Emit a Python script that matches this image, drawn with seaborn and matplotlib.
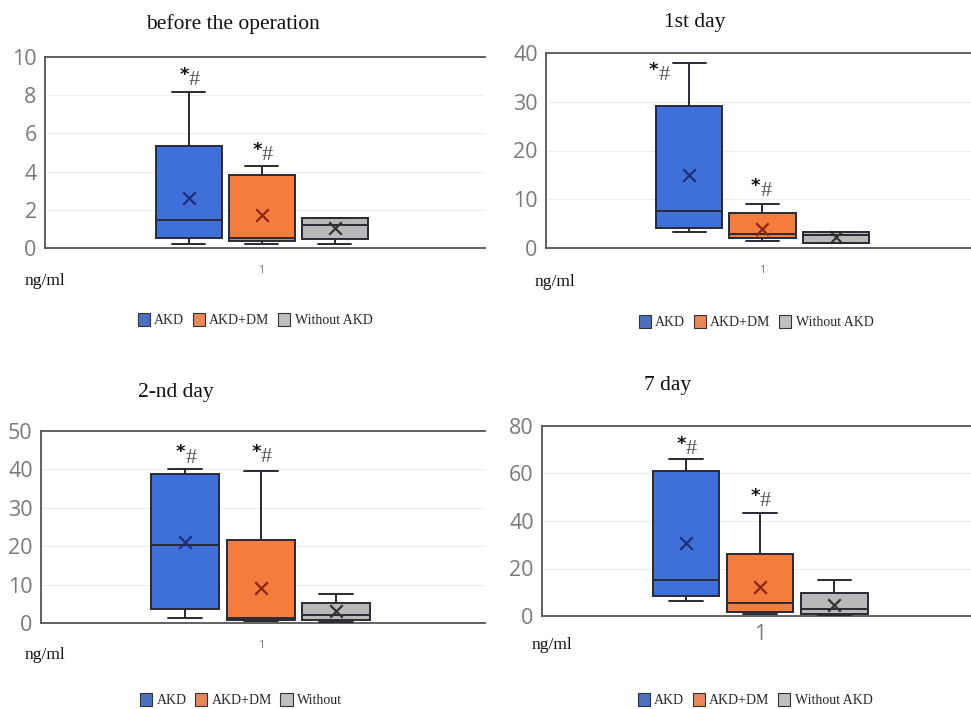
import numpy as np
import pandas as pd
import matplotlib
matplotlib.use("Agg")
import matplotlib.pyplot as plt
from matplotlib.patches import Patch
import seaborn as sns

# ---------------- data ----------------
groups = ["AKD", "AKD+DM", "Without AKD"]
titles = ["before the operation", "1st day", "2-nd day", "7 day"]
ylims = [10, 40, 50, 80]
yticks = [[0, 2, 4, 6, 8, 10], [0, 10, 20, 30, 40], [0, 10, 20, 30, 40, 50], [0, 20, 40, 60, 80]]
legend_labels = [groups, groups, ["AKD", "AKD+DM", "Without"], groups]

# five-number summaries per group: [whisker low, Q1, median, Q3, whisker high]
p1_akd = [0.2, 0.54, 1.48, 5.36, 8.17]
p1_dm = [0.2, 0.35, 0.54, 3.83, 4.3]
p1_wo = [0.2, 0.47, 1.2, 1.55, 1.55]
p2_akd = [3.2, 4.2, 7.5, 29.2, 37.9]
p2_dm = [1.4, 2.05, 2.9, 7.2, 8.96]
p2_wo = [0.96, 0.96, 2.67, 3.3, 3.3]
p3_akd = [1.3, 3.6, 20.2, 38.7, 40.05]
p3_dm = [0.5, 0.8, 1.2, 21.5, 39.6]
p3_wo = [0.2, 0.8, 2.1, 5.3, 7.5]
p4_akd = [6.3, 8.4, 15.0, 60.9, 66.2]
p4_dm = [1.0, 1.7, 5.5, 26.0, 43.5]
p4_wo = [0.5, 0.7, 3.1, 9.8, 15.0]

# means (x markers)
p1_means = [2.64, 1.72, 1.03]
p2_means = [14.9, 4.0, 2.26]
p3_means = [21.0, 9.1, 3.0]
p4_means = [30.6, 12.4, 4.8]

summaries = [[p1_akd, p1_dm, p1_wo], [p2_akd, p2_dm, p2_wo],
             [p3_akd, p3_dm, p3_wo], [p4_akd, p4_dm, p4_wo]]
means = [p1_means, p2_means, p3_means, p4_means]

# ---------------- styling / layout ----------------
box_colors = {"AKD": "#3f6fd8", "AKD+DM": "#f47c3c", "Without AKD": "#b9b9b9"}
mean_colors = {"AKD": "#1c2f7a", "AKD+DM": "#8a2616", "Without AKD": "#333333"}
legend_colors = ["#4a70c0", "#e8875a", "#c0c0c0"]

W, H = 971, 709
rects = [
    (45, 57, 485, 248),
    (546, 53, 990, 248),
    (41, 431, 485, 623),
    (542, 426, 990, 616),
]
xlims = [(-1.97, 4.06), (-1.95, 4.1), (-1.91, 3.97), (-1.94, 4.1)]
title_pos = [(233, 24), (695, 22), (176, 393), (668, 385)]
ngml_pos = [(25, 281), (535, 282), (25, 655), (532, 645)]
legend_pos = [(255, 320), (756, 322), (241, 700), (755, 700)]
one_size = [8, 8, 8, 15]
# annotation placements: (group index, x offset, y offset as fraction of range)
annots = [
    [(0, 0.0, 0.08), (1, 0.0, 0.075)],
    [(0, -0.42, -0.04), (1, -0.03, 0.085)],
    [(0, 0.0, 0.08), (1, 0.0, 0.09)],
    [(0, 0.0, 0.07), (1, 0.0, 0.082)],
]

sns.set_theme(style="white")
plt.rcParams["font.family"] = ["DejaVu Sans"]

fig = plt.figure(figsize=(W / 100, H / 100), dpi=100)

for i in range(4):
    l, t, r, b = rects[i]
    ax = fig.add_axes([l / W, 1 - b / H, (r - l) / W, (b - t) / H])

    rows = []
    for g, s in zip(groups, summaries[i]):
        for v in s:
            rows.append({"group": g, "value": v})
    df = pd.DataFrame(rows)
    mdf = pd.DataFrame({"group": groups, "mean": means[i]})

    sns.boxplot(data=df, x="group", y="value", hue="group", order=groups,
                hue_order=groups, palette=box_colors, saturation=1,
                whis=(0, 100), width=0.9, linewidth=1.4, linecolor="#2a2a35",
                legend=False, ax=ax, zorder=3)
    sns.stripplot(data=mdf, x="group", y="mean", hue="group", order=groups,
                  hue_order=groups, palette=mean_colors, jitter=False,
                  marker="x", s=9, linewidth=1.6, legend=False, ax=ax, zorder=6)

    ax.set_xlim(*xlims[i])
    ax.set_ylim(0, ylims[i])
    ax.set_yticks(yticks[i])
    ax.set_yticklabels([str(v) for v in yticks[i]], fontsize=15.5,
                       color="#7a7a7a", family="Open Sans")
    ax.set_xticks([1])
    ax.set_xticklabels(["1"], fontsize=one_size[i], color="#7a7a7a",
                       family="Open Sans")
    ax.tick_params(axis="x", length=0, pad=12 if i < 3 else 6)
    ax.tick_params(axis="y", length=0, pad=6)
    ax.set_xlabel("")
    ax.set_ylabel("")
    for v in yticks[i][1:-1]:
        ax.axhline(v, color="#eeeeee", lw=0.8, zorder=0)
    for sp in ["top", "left", "bottom"]:
        ax.spines[sp].set_color("#555555")
        ax.spines[sp].set_linewidth(1.3)
    ax.spines["right"].set_visible(False)

    # significance marks: small dark asterisk followed by a taller grey hash
    for gi, dx, dy in annots[i]:
        ytop = summaries[i][gi][-1] + dy * ylims[i]
        ax.annotate("*", (gi + dx, ytop), xytext=(0, 1), textcoords="offset points",
                    ha="right", va="center", fontsize=13, fontweight="bold",
                    family="DejaVu Sans", color="#111111", zorder=7)
        ax.annotate("#", (gi + dx, ytop), xytext=(0, -3), textcoords="offset points",
                    ha="left", va="center", fontsize=16,
                    family="Liberation Serif", color="#555555", zorder=7)

    tx, ty = title_pos[i]
    fig.text(tx / W, 1 - ty / H, titles[i], ha="center", va="center",
             fontsize=15.5, family="Liberation Serif", color="#111111")
    nx, ny = ngml_pos[i]
    fig.text(nx / W, 1 - ny / H, "ng/ml", ha="left", va="center",
             fontsize=12.5, family="Liberation Serif", color="#111111")

    handles = [Patch(facecolor=c, edgecolor="#333333", linewidth=0.8)
               for c in legend_colors]
    lx, ly = legend_pos[i]
    fig.legend(handles, legend_labels[i], loc="center",
               bbox_to_anchor=(lx / W, 1 - ly / H), ncol=3, frameon=False,
               prop={"family": "Liberation Serif", "size": 10},
               handlelength=0.9, handleheight=1.1, handletextpad=0.3,
               columnspacing=0.6, borderpad=0)

fig.savefig("out.png", dpi=100)
